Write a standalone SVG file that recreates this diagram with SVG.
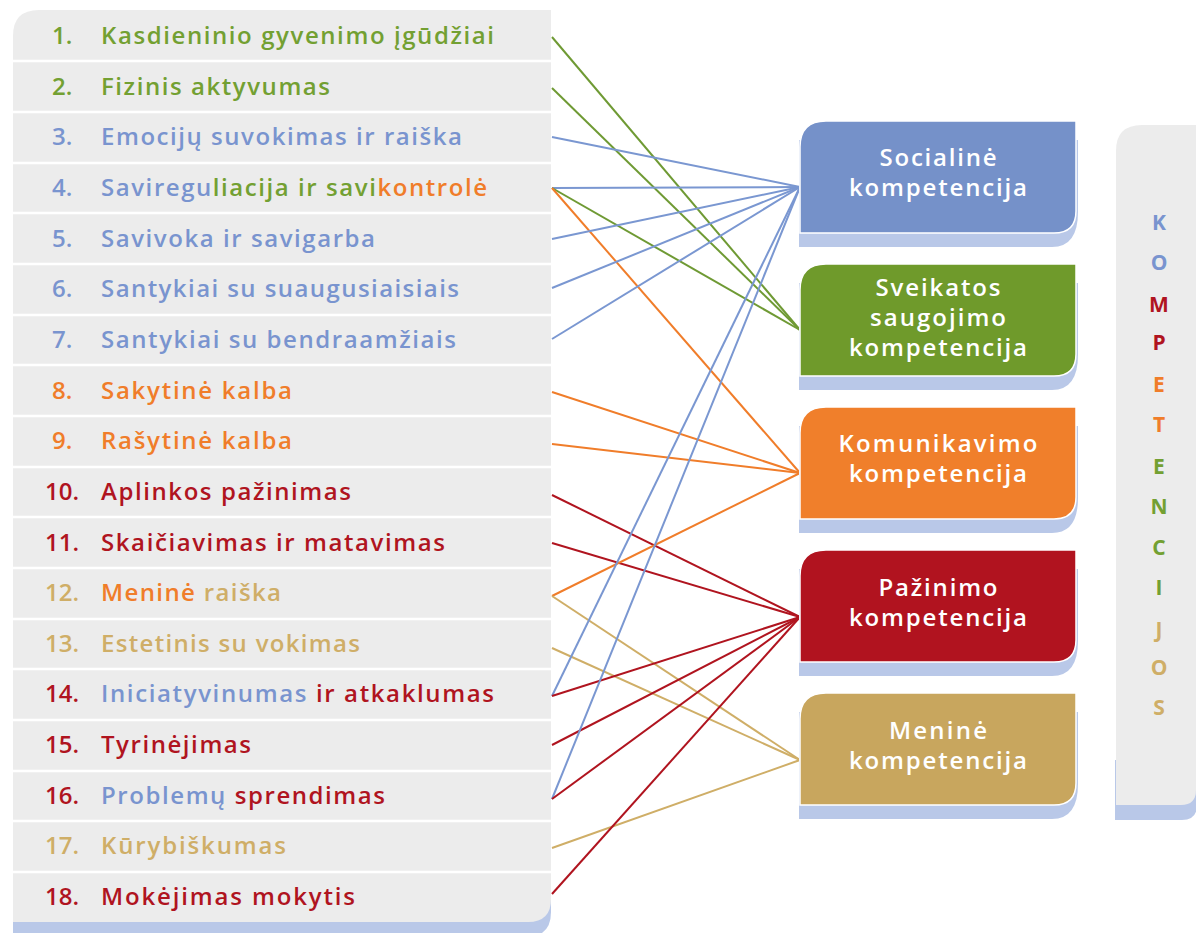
<svg xmlns="http://www.w3.org/2000/svg" width="1196" height="933" viewBox="0 0 1196 933">
<style>
.t{font-family:"Open Sans","Liberation Sans",sans-serif;font-weight:600;font-size:24px}
.n{font-family:"Open Sans","Liberation Sans",sans-serif;font-weight:600;font-size:24px}
.bx{font-family:"Open Sans","Liberation Sans",sans-serif;font-weight:600;font-size:24px;fill:#fff;text-anchor:middle}
.k{font-family:"Open Sans","Liberation Sans",sans-serif;font-weight:700;font-size:21px;text-anchor:middle}
.g{fill:#73a032}.b{fill:#7994cf}.o{fill:#f07d2a}.r{fill:#b0141f}.y{fill:#cfae67}
.sh{fill:#b9c8e8}
.sep{stroke:#fff;stroke-width:2.5}
#connectors line{stroke-width:2;fill:none}
.lg{stroke:#6f9a34}.lb{stroke:#7a97d1}.lo{stroke:#f07d2a}.lr{stroke:#b0141f}.ly{stroke:#cfae67}
</style>
<rect width="1196" height="933" fill="#fff"/>
<g id="left-panel">
<path class="sh" d="M13,900 H551 V912 Q551,937 526,937 H13 Z"/>
<path fill="#ececec" d="M13,36 Q13,10 39,10 H551 V899 Q551,922 528,922 H13 Z"/>
<g class="sep">
<line x1="13" y1="61" x2="551" y2="61"/><line x1="13" y1="112" x2="551" y2="112"/><line x1="13" y1="163" x2="551" y2="163"/>
<line x1="13" y1="213" x2="551" y2="213"/><line x1="13" y1="264" x2="551" y2="264"/><line x1="13" y1="315" x2="551" y2="315"/>
<line x1="13" y1="365" x2="551" y2="365"/><line x1="13" y1="416" x2="551" y2="416"/><line x1="13" y1="467" x2="551" y2="467"/>
<line x1="13" y1="517" x2="551" y2="517"/><line x1="13" y1="568" x2="551" y2="568"/><line x1="13" y1="619" x2="551" y2="619"/>
<line x1="13" y1="669" x2="551" y2="669"/><line x1="13" y1="720" x2="551" y2="720"/><line x1="13" y1="771" x2="551" y2="771"/>
<line x1="13" y1="821" x2="551" y2="821"/><line x1="13" y1="872" x2="551" y2="872"/>
</g>
</g>
<g id="row1"><text class="n g" x="52" y="44">1.</text><text class="t g" x="101" y="44" textLength="393">Kasdieninio gyvenimo įgūdžiai</text></g>
<g id="row2"><text class="n g" x="52" y="95">2.</text><text class="t g" x="101" y="95" textLength="229">Fizinis aktyvumas</text></g>
<g id="row3"><text class="n b" x="52" y="145">3.</text><text class="t b" x="101" y="145" textLength="361">Emocijų suvokimas ir raiška</text></g>
<g id="row4"><text class="n b" x="52" y="196">4.</text><text class="t" x="101" y="196" textLength="386"><tspan class="b">Saviregu</tspan><tspan class="g">liacija ir savi</tspan><tspan class="o">kontrolė</tspan></text></g>
<g id="row5"><text class="n b" x="52" y="247">5.</text><text class="t b" x="101" y="247" textLength="274">Savivoka ir savigarba</text></g>
<g id="row6"><text class="n b" x="52" y="297">6.</text><text class="t b" x="101" y="297" textLength="358">Santykiai su suaugusiaisiais</text></g>
<g id="row7"><text class="n b" x="52" y="348">7.</text><text class="t b" x="101" y="348" textLength="355">Santykiai su bendraamžiais</text></g>
<g id="row8"><text class="n o" x="52" y="399">8.</text><text class="t o" x="101" y="399" textLength="191">Sakytinė kalba</text></g>
<g id="row9"><text class="n o" x="52" y="449">9.</text><text class="t o" x="101" y="449" textLength="191">Rašytinė kalba</text></g>
<g id="row10"><text class="n r" x="45" y="500">10.</text><text class="t r" x="101" y="500" textLength="250">Aplinkos pažinimas</text></g>
<g id="row11"><text class="n r" x="45" y="551">11.</text><text class="t r" x="101" y="551" textLength="344">Skaičiavimas ir matavimas</text></g>
<g id="row12"><text class="n y" x="45" y="601">12.</text><text class="t" x="101" y="601" textLength="180"><tspan class="o">Meninė</tspan><tspan class="y"> raiška</tspan></text></g>
<g id="row13"><text class="n y" x="45" y="652">13.</text><text class="t y" x="101" y="652" textLength="259">Estetinis su vokimas</text></g>
<g id="row14"><text class="n r" x="45" y="702">14.</text><text class="t" x="101" y="702" textLength="393"><tspan class="b">Iniciatyvinumas</tspan><tspan class="r"> ir atkaklumas</tspan></text></g>
<g id="row15"><text class="n r" x="45" y="753">15.</text><text class="t r" x="101" y="753" textLength="150">Tyrinėjimas</text></g>
<g id="row16"><text class="n r" x="45" y="804">16.</text><text class="t" x="101" y="804" textLength="284"><tspan class="b">Problemų</tspan><tspan class="r"> sprendimas</tspan></text></g>
<g id="row17"><text class="n y" x="45" y="854">17.</text><text class="t y" x="101" y="854" textLength="185">Kūrybiškumas</text></g>
<g id="row18"><text class="n r" x="45" y="905">18.</text><text class="t r" x="101" y="905" textLength="254">Mokėjimas mokytis</text></g>

<g id="connectors">
<line class="lg" x1="552" y1="37" x2="800" y2="330"/>
<line class="lg" x1="552" y1="88" x2="800" y2="330"/>
<line class="lb" x1="552" y1="137" x2="800" y2="187"/>
<line class="lb" x1="552" y1="188" x2="800" y2="187"/>
<line class="lg" x1="552" y1="188" x2="800" y2="330"/>
<line class="lo" x1="552" y1="188" x2="800" y2="473"/>
<line class="lb" x1="552" y1="239" x2="800" y2="187"/>
<line class="lb" x1="552" y1="288" x2="800" y2="187"/>
<line class="lb" x1="552" y1="339" x2="800" y2="187"/>
<line class="lo" x1="552" y1="392" x2="800" y2="473"/>
<line class="lo" x1="552" y1="444" x2="800" y2="473"/>
<line class="lr" x1="552" y1="495" x2="800" y2="617"/>
<line class="lr" x1="552" y1="543" x2="800" y2="617"/>
<line class="lo" x1="552" y1="596" x2="800" y2="473"/>
<line class="ly" x1="552" y1="596" x2="800" y2="760"/>
<line class="ly" x1="552" y1="648" x2="800" y2="760"/>
<line class="lb" x1="552" y1="696" x2="800" y2="187"/>
<line class="lr" x1="552" y1="696" x2="800" y2="617"/>
<line class="lr" x1="552" y1="745" x2="800" y2="617"/>
<line class="lb" x1="552" y1="799" x2="800" y2="187"/>
<line class="lr" x1="552" y1="799" x2="800" y2="617"/>
<line class="ly" x1="552" y1="848" x2="800" y2="760"/>
<line class="lr" x1="552" y1="894" x2="800" y2="617"/>
</g>

<g id="social">
<path class="sh" d="M799,140 H1078 V212 Q1078,247 1052,247 H799 Z"/>
<path fill="#7591c9" stroke="#fff" stroke-width="1.5" d="M800,147 Q800,121 826,121 H1076 V211 Q1076,233 1054,233 H800 Z"/>
<text class="bx" x="938" y="166" textLength="117">Socialinė</text>
<text class="bx" x="938" y="196" textLength="178">kompetencija</text>
</g>
<g id="sveikatos">
<path class="sh" d="M799,283 H1078 V355 Q1078,390 1052,390 H799 Z"/>
<path fill="#6f9a2b" stroke="#fff" stroke-width="1.5" d="M800,290 Q800,264 826,264 H1076 V354 Q1076,376 1054,376 H800 Z"/>
<text class="bx" x="938" y="296" textLength="125">Sveikatos</text>
<text class="bx" x="938" y="326" textLength="136">saugojimo</text>
<text class="bx" x="938" y="356" textLength="178">kompetencija</text>
</g>
<g id="komunikavimo">
<path class="sh" d="M799,426 H1078 V498 Q1078,533 1052,533 H799 Z"/>
<path fill="#f07f2b" stroke="#fff" stroke-width="1.5" d="M800,433 Q800,407 826,407 H1076 V497 Q1076,519 1054,519 H800 Z"/>
<text class="bx" x="938" y="452" textLength="199">Komunikavimo</text>
<text class="bx" x="938" y="482" textLength="178">kompetencija</text>
</g>
<g id="pazinimo">
<path class="sh" d="M799,569 H1078 V641 Q1078,676 1052,676 H799 Z"/>
<path fill="#b1131f" stroke="#fff" stroke-width="1.5" d="M800,576 Q800,550 826,550 H1076 V640 Q1076,662 1054,662 H800 Z"/>
<text class="bx" x="938" y="596" textLength="119">Pažinimo</text>
<text class="bx" x="938" y="626" textLength="178">kompetencija</text>
</g>
<g id="menine">
<path class="sh" d="M799,712 H1078 V784 Q1078,819 1052,819 H799 Z"/>
<path fill="#c8a65e" stroke="#fff" stroke-width="1.5" d="M800,719 Q800,693 826,693 H1076 V783 Q1076,805 1054,805 H800 Z"/>
<text class="bx" x="938" y="739" textLength="98">Meninė</text>
<text class="bx" x="938" y="769" textLength="178">kompetencija</text>
</g>

<g id="kompetencijos">
<path class="sh" d="M1115,760 H1197 V805 Q1197,820 1182,820 H1115 Z"/>
<path fill="#ececec" d="M1116,151 Q1116,125 1142,125 H1196 V790 Q1196,805 1181,805 H1116 Z"/>
<text class="k b" x="1159" y="230">K</text>
<text class="k b" x="1159" y="270">O</text>
<text class="k r" x="1159" y="312">M</text>
<text class="k r" x="1159" y="350">P</text>
<text class="k o" x="1159" y="392">E</text>
<text class="k o" x="1159" y="432">T</text>
<text class="k g" x="1159" y="474">E</text>
<text class="k g" x="1159" y="514">N</text>
<text class="k g" x="1159" y="555">C</text>
<text class="k g" x="1159" y="595">I</text>
<text class="k y" x="1159" y="637">J</text>
<text class="k y" x="1159" y="675">O</text>
<text class="k y" x="1159" y="715">S</text>
</g>
</svg>
